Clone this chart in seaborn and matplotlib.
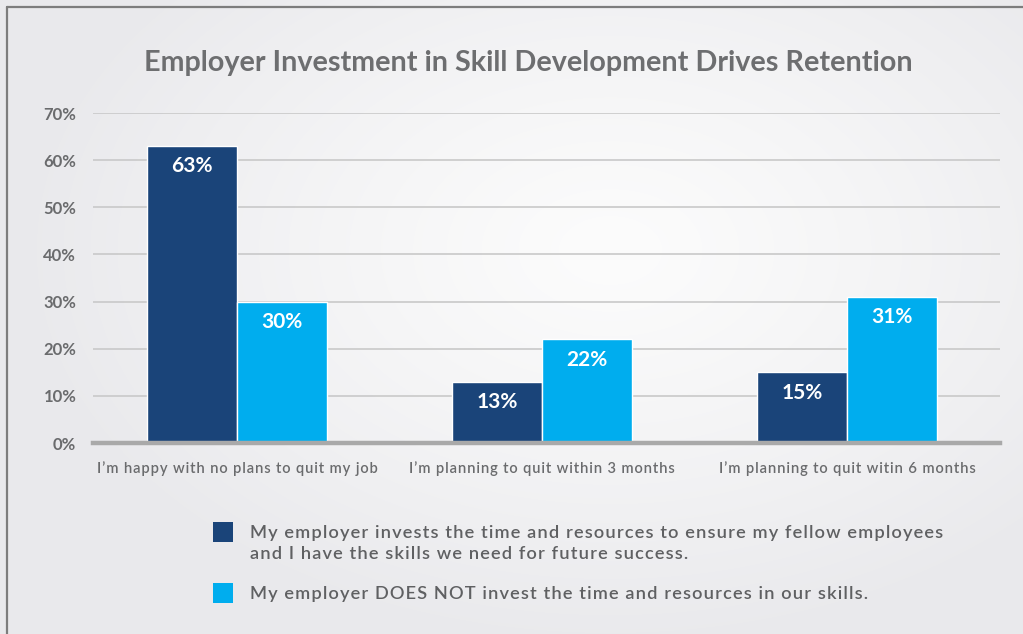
import numpy as np
import pandas as pd
import matplotlib
matplotlib.use("Agg")
import matplotlib.pyplot as plt
from matplotlib.lines import Line2D
from matplotlib.patches import Rectangle
import seaborn as sns

# Survey responses (% of employees)
categories = [
    "I’m happy with no plans to quit my job",
    "I’m planning to quit within 3 months",
    "I’m planning to quit witin 6 months",
]
invests = [63, 13, 15]
does_not_invest = [30, 22, 31]
series_names = [
    "My employer invests the time and resources to ensure my fellow employees\nand I have the skills we need for future success.",
    "My employer DOES NOT invest the time and resources in our skills.",
]
y_ticks = [0, 10, 20, 30, 40, 50, 60, 70]

DARK = "#1a4479"
CYAN = "#00adee"
TEXT_GRAY = "#6a6b6d"


def tracked(s):
    """Loosen letter spacing with hair spaces, line by line."""
    return "\n".join("\u200a".join(line) for line in s.split("\n"))


def fit_width(txt, renderer, target_px):
    """Scale a text's font size so that its rendered width hits target_px."""
    for _ in range(3):
        w = txt.get_window_extent(renderer).width
        txt.set_fontsize(txt.get_fontsize() * target_px / w)


df = pd.DataFrame({
    "category": categories * 2,
    "value": invests + does_not_invest,
    "group": [series_names[0]] * 3 + [series_names[1]] * 3,
})

sns.set_theme(style="white")
plt.rcParams["font.family"] = ["Lato", "DejaVu Sans"]

W, H = 1023, 634
fig = plt.figure(figsize=(W / 100, H / 100), dpi=100)

# soft radial background
bg = fig.add_axes([0, 0, 1, 1], zorder=-10)
yy, xx = np.mgrid[0:H, 0:W]
r = np.sqrt(((xx - 610) / 600.0) ** 2 + ((yy - 250) / 400.0) ** 2)
r = np.clip(r, 0, 1)
lo = np.array([252, 252, 252]) / 255.0
hi = np.array([233, 233, 236]) / 255.0
img = lo[None, None, :] + (hi - lo)[None, None, :] * (r ** 1.2)[:, :, None]
bg.imshow(img, extent=[0, W, H, 0], aspect="auto")
bg.set_xlim(0, W)
bg.set_ylim(H, 0)
bg.axis("off")

ax = fig.add_axes([93 / W, 1 - 443 / H, (1000 - 93) / W, (443 - 113) / H])
ax.set_facecolor("none")

sns.barplot(
    data=df, x="category", y="value", hue="group",
    hue_order=series_names, palette=[DARK, CYAN], saturation=1,
    width=0.59, dodge=True, legend=False, ax=ax,
    edgecolor="white", linewidth=1.0, zorder=3,
)

ax.set_ylim(0, 70)
ax.set_xlim(-0.472, 2.502)
ax.set_yticks(y_ticks)
ax.set_yticklabels([f"{v}%" for v in y_ticks])
ax.yaxis.grid(True, color="#c9c9c9", linewidth=1.2, zorder=0)
ax.set_axisbelow(True)
for s in ["top", "right", "left"]:
    ax.spines[s].set_visible(False)
ax.spines["bottom"].set_color("#a9a9a9")
ax.spines["bottom"].set_linewidth(3.2)
ax.spines["bottom"].set_zorder(4)
ax.set_xlabel("")
ax.set_ylabel("")
ax.tick_params(axis="y", length=0, pad=12, labelsize=12, labelcolor=TEXT_GRAY)
for t in ax.get_yticklabels():
    t.set_fontweight("bold")
ax.set_xticks(range(len(categories)))
ax.set_xticklabels([tracked(c) for c in categories])
ax.tick_params(axis="x", length=0, pad=13, labelsize=10.5, labelcolor=TEXT_GRAY)
for t in ax.get_xticklabels():
    t.set_fontweight("semibold")

# value labels inside the bars
for container in ax.containers:
    for bar in container:
        h = bar.get_height()
        ax.text(bar.get_x() + bar.get_width() / 2, h - 4.3, f"{h:.0f}%",
                ha="center", va="center", color="white",
                fontsize=15, fontweight="bold", zorder=5)

title = fig.text(528 / W, 1 - 63 / H,
                 "Employer Investment in Skill Development Drives Retention",
                 ha="center", va="center", fontsize=20, fontweight="bold",
                 color="#6d6e70")

# legend
legend_rows = [(DARK, series_names[0], 522), (CYAN, series_names[1], 583)]
legend_texts = []
for color, label, ytop in legend_rows:
    fig.patches.append(Rectangle((213 / W, 1 - (ytop + 20) / H), 20 / W, 20 / H,
                                 transform=fig.transFigure, facecolor=color,
                                 edgecolor="none"))
    legend_texts.append(fig.text(250 / W, 1 - (ytop + 3) / H, tracked(label),
                                 ha="left", va="top", fontsize=13,
                                 fontweight="semibold", color="#5f6062",
                                 linespacing=1.35))

# frame lines along top and left edges
fig.add_artist(Line2D([7 / W, 1], [1 - 7 / H, 1 - 7 / H],
                      transform=fig.transFigure, color="#7d7d7d", linewidth=1.6))
fig.add_artist(Line2D([7 / W, 7 / W], [0, 1 - 7 / H],
                      transform=fig.transFigure, color="#7d7d7d", linewidth=1.6))

renderer = fig.canvas.get_renderer()
fit_width(title, renderer, 767)
# legend: first entry is the widest line, share its size with the second
fit_width(legend_texts[0], renderer, 693)
legend_texts[1].set_fontsize(legend_texts[0].get_fontsize())
# category labels: fit the first, share its size
xt = ax.get_xticklabels()
fit_width(xt[0], renderer, 285)
ax.tick_params(axis="x", labelsize=xt[0].get_fontsize())

fig.savefig("out.png", dpi=100)
